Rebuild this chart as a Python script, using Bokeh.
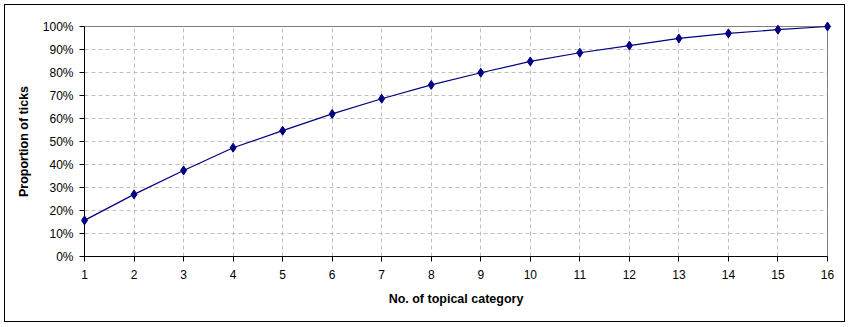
from bokeh.plotting import figure
from bokeh.models import NumeralTickFormatter, FixedTicker, Range1d
from bokeh.embed import file_html
from bokeh.resources import INLINE

categories = list(range(1, 17))
proportion = [0.157, 0.27, 0.374, 0.473, 0.547, 0.620, 0.686, 0.746, 0.799,
              0.848, 0.886, 0.917, 0.948, 0.970, 0.986, 1.0]
y_ticks = [i / 10 for i in range(11)]

FONT = "Liberation Sans"

p = figure(width=839, height=316, output_backend="svg", toolbar_location=None,
           x_range=Range1d(1, 16), y_range=Range1d(0, 1),
           min_border_left=79, min_border_right=17, min_border_top=21,
           min_border_bottom=65, margin=(5, 0, 0, 5))
p.styles = {"outline": "1px solid black"}
p.background_fill_color = "white"
p.border_fill_color = "white"
p.outline_line_color = "#808080"
p.outline_line_width = 1

p.line(categories, proportion, line_color="#000080", line_width=1.2,
       level="overlay")
p.scatter(categories, proportion, marker="diamond", size=9,
          fill_color="#000080", line_color="#000080", level="overlay")

p.xaxis.ticker = FixedTicker(ticks=categories)
p.yaxis.ticker = FixedTicker(ticks=y_ticks)
p.yaxis.formatter = NumeralTickFormatter(format="0%")

for ax in (p.xaxis, p.yaxis):
    ax.axis_line_color = "black"
    ax.axis_line_width = 1
    ax.major_tick_line_color = "black"
    ax.major_tick_out = 5
    ax.major_tick_in = 0
    ax.minor_tick_line_color = None
    ax.major_label_text_font = FONT
    ax.major_label_text_font_size = "12px"
    ax.major_label_text_color = "black"
    ax.axis_label_text_font = FONT
    ax.axis_label_text_font_size = "12.5px"
    ax.axis_label_text_font_style = "bold"
    ax.axis_label_text_color = "black"

p.xaxis.axis_label = "No. of topical category"
p.yaxis.axis_label = "Proportion of ticks"
p.xaxis.major_label_standoff = 8
p.yaxis.major_label_standoff = 6
p.xaxis.axis_label_standoff = 10
p.yaxis.axis_label_standoff = 9

p.grid.grid_line_color = "#c0c0c0"
p.grid.grid_line_dash = "4 3"
p.grid.grid_line_width = 1

open("out.html", "w").write(file_html(p, INLINE))
